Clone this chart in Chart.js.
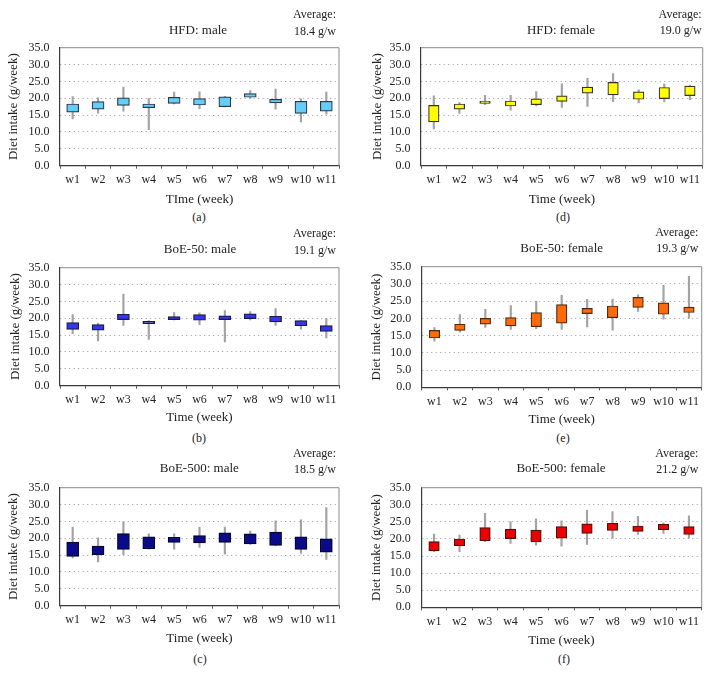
<!DOCTYPE html>
<html>
<head>
<meta charset="utf-8">
<script src="https://cdn.jsdelivr.net/npm/chart.js@4.4.1/dist/chart.umd.min.js"></script>
<style>
  body { margin: 0; background: #fff; }
  #fig { position: relative; width: 713px; height: 674px; background: #fff; overflow: hidden; }
  #fig canvas { position: absolute; }
  .lbl { position: absolute; white-space: nowrap; line-height: 1.2; font-family: "Liberation Serif", serif; color: #222; }
</style>
</head>
<body>
<div id="fig"></div>
<script>
// weeks on the x axis
const weeks = ["w1", "w2", "w3", "w4", "w5", "w6", "w7", "w8", "w9", "w10", "w11"];
const yTicks = [0, 5, 10, 15, 20, 25, 30, 35];

// [min, max] whiskers and [low, high] boxes, g/week
const hfdMaleRange = [[13.9, 20.5], [15.6, 20.1], [16.2, 23.3], [10.7, 20.0], [18.3, 21.8], [16.9, 21.9], [17.4, 20.6], [20.0, 22.3], [16.8, 22.7], [13.0, 19.8], [15.3, 21.8]];
const hfdMaleBox = [[15.9, 18.3], [16.8, 19.0], [17.9, 20.1], [17.2, 18.3], [18.5, 20.3], [18.0, 19.9], [17.5, 20.4], [20.3, 21.4], [18.6, 19.7], [15.5, 19.1], [16.2, 19.1]];

const hfdFemaleRange = [[10.9, 20.7], [15.5, 18.7], [18.1, 20.9], [16.5, 20.9], [17.7, 22.0], [17.3, 24.3], [17.6, 25.9], [19.0, 27.3], [18.6, 22.5], [19.0, 24.3], [19.6, 23.9]];
const hfdFemaleBox = [[13.0, 17.9], [16.8, 18.3], [18.5, 19.2], [17.7, 19.2], [18.1, 19.8], [19.1, 20.7], [21.5, 23.3], [21.0, 24.7], [19.7, 21.9], [19.9, 23.2], [20.8, 23.6]];

const boe50MaleRange = [[15.4, 21.1], [13.3, 18.5], [17.9, 27.2], [13.7, 19.3], [19.5, 21.7], [18.1, 21.6], [13.0, 22.3], [19.5, 22.0], [17.9, 22.9], [16.8, 19.4], [14.2, 20.0]];
const boe50MaleBox = [[16.7, 18.7], [16.5, 18.1], [19.6, 21.2], [18.4, 19.1], [19.6, 20.5], [19.4, 21.1], [19.6, 20.7], [19.9, 21.3], [18.9, 20.6], [17.8, 19.3], [16.1, 17.8]];

const boe50FemaleRange = [[13.4, 17.3], [16.0, 21.1], [17.4, 22.6], [16.8, 23.7], [17.0, 25.0], [16.8, 26.7], [17.5, 25.5], [16.6, 25.6], [22.0, 26.8], [19.8, 29.6], [20.0, 32.2]];
const boe50FemaleBox = [[14.3, 16.5], [16.5, 18.3], [18.3, 20.0], [17.8, 20.2], [17.6, 21.7], [18.6, 24.0], [21.4, 22.9], [20.2, 23.6], [23.2, 26.1], [21.2, 24.5], [21.7, 23.3]];

const boe500MaleRange = [[14.2, 23.3], [13.0, 20.1], [15.1, 24.9], [16.8, 21.3], [16.8, 21.3], [17.3, 23.3], [15.3, 23.3], [18.2, 22.1], [17.7, 25.2], [15.5, 25.5], [13.7, 29.1]];
const boe500MaleBox = [[14.6, 18.9], [15.1, 17.7], [16.7, 21.4], [16.9, 20.4], [18.8, 20.3], [18.6, 20.8], [18.8, 21.6], [18.3, 21.3], [17.9, 21.8], [16.7, 20.4], [15.9, 19.8]];

const boe500FemaleRange = [[16.3, 21.4], [16.3, 21.1], [19.2, 27.5], [18.7, 25.1], [18.2, 25.9], [17.9, 25.3], [18.4, 28.4], [20.2, 28.0], [21.3, 26.6], [21.6, 24.7], [20.2, 26.8]];
const boe500FemaleBox = [[16.5, 19.2], [18.0, 20.0], [19.5, 23.3], [20.1, 22.9], [19.1, 22.6], [20.2, 23.6], [21.6, 24.4], [22.5, 24.6], [22.2, 23.8], [22.7, 24.3], [21.3, 23.6]];

const panelTitles = ["HFD: male", "HFD: female", "BoE-50: male", "BoE-50: female", "BoE-500: male", "BoE-500: female"];
const averages = ["18.4 g/w", "19.0 g/w", "19.1 g/w", "19.3 g/w", "18.5 g/w", "21.2 g/w"];
const letters = ["(a)", "(d)", "(b)", "(e)", "(c)", "(f)"];
const xTitles = ["TIme (week)", "Time (week)", "Time (week)", "Time (week)", "Time (week)", "Time (week)"];

// layout and style of each panel
const panels = [
  { box: hfdMaleBox, range: hfdMaleRange, fill: "#66CCF8", edge: "#2a3a48", bw: 12,
    col: 0, plot: { l: 60, r: 339, t: 40.7, b: 165.7 }, yTitleX: 13.8, xTitleY: 199.3,
    titleXY: [198, 30], avgX: 336, avgY: [14, 30.5], letterXY: [199, 217] },
  { box: hfdFemaleBox, range: hfdFemaleRange, fill: "#FFFF00", edge: "#333", bw: 10.5,
    col: 1, plot: { l: 421, r: 702.7, t: 40.3, b: 165.7 }, yTitleX: 377.5, xTitleY: 199.3,
    titleXY: [561, 29.5], avgX: 701.7, avgY: [13.5, 30], letterXY: [563, 217] },
  { box: boe50MaleBox, range: boe50MaleRange, fill: "#3636EA", edge: "#1a1a40", bw: 12,
    col: 0, plot: { l: 60, r: 339, t: 260.3, b: 385.7 }, yTitleX: 15.3, xTitleY: 417.7,
    titleXY: [200, 249.3], avgX: 336, avgY: [233.3, 249.8], letterXY: [199, 438] },
  { box: boe50FemaleBox, range: boe50FemaleRange, fill: "#FF6A0A", edge: "#4a2a10", bw: 10.5,
    col: 1, plot: { l: 421.7, r: 701.7, t: 259.7, b: 387.3 }, yTitleX: 376.3, xTitleY: 420,
    titleXY: [561.7, 248.3], avgX: 698.3, avgY: [231.7, 248.3], letterXY: [563, 438] },
  { box: boe500MaleBox, range: boe500MaleRange, fill: "#0A0A8A", edge: "#05052a", bw: 12,
    col: 0, plot: { l: 60, r: 339, t: 480, b: 605.7 }, yTitleX: 14, xTitleY: 639,
    titleXY: [199.3, 468.3], avgX: 336, avgY: [452.7, 469], letterXY: [200, 659] },
  { box: boe500FemaleBox, range: boe500FemaleRange, fill: "#EE0000", edge: "#4a1010", bw: 10.5,
    col: 1, plot: { l: 421.3, r: 701.7, t: 480, b: 607.3 }, yTitleX: 376.3, xTitleY: 641,
    titleXY: [561, 468.3], avgX: 698.3, avgY: [453.3, 469.3], letterXY: [564, 659] },
];

const fig = document.getElementById("fig");
Chart.defaults.font.family = '"Liberation Serif", serif';
Chart.defaults.color = "#222";

function addText(txt, x, y, size, align) {
  const d = document.createElement("div");
  d.className = "lbl";
  d.textContent = txt;
  d.style.fontSize = size + "px";
  d.style.top = y + "px";
  if (align === "right") {
    d.style.right = (713 - x) + "px";
    d.style.transform = "translateY(-50%)";
  } else {
    d.style.left = x + "px";
    d.style.transform = "translate(-50%, -50%)";
  }
  fig.appendChild(d);
}

// light top and right edges of the plot frame
const framePlugin = {
  id: "frame",
  afterDatasetsDraw(chart) {
    const { ctx, chartArea: a } = chart;
    ctx.save();
    ctx.strokeStyle = "#8c8c8c";
    ctx.lineWidth = 1;
    ctx.beginPath();
    ctx.moveTo(a.left, a.top);
    ctx.lineTo(a.right, a.top);
    ctx.lineTo(a.right, a.bottom);
    ctx.stroke();
    ctx.restore();
  },
};

panels.forEach((p, i) => {
  const cl = p.col === 0 ? 0 : 356;
  const cw = p.col === 0 ? 345 : 357;
  const ct = Math.floor(p.plot.t - 10);
  const cb = Math.ceil(p.xTitleY + 7.8);
  const ch = cb - ct;

  const canvas = document.createElement("canvas");
  canvas.width = cw;
  canvas.height = ch;
  canvas.style.left = cl + "px";
  canvas.style.top = ct + "px";
  fig.appendChild(canvas);

  new Chart(canvas, {
    type: "bar",
    data: {
      labels: weeks,
      datasets: [
        {
          label: "box",
          data: p.box,
          backgroundColor: p.fill,
          borderColor: p.edge,
          borderWidth: 1.2,
          borderSkipped: false,
          barThickness: p.bw,
          grouped: false,
          order: 0,
        },
        {
          label: "range",
          data: p.range,
          backgroundColor: "#a3a3a3",
          borderWidth: 0,
          barThickness: 1.5,
          grouped: false,
          order: 1,
        },
      ],
    },
    options: {
      responsive: false,
      animation: false,
      layout: {
        padding: { top: p.plot.t - ct, right: cl + cw - p.plot.r, left: 0, bottom: 0 },
      },
      plugins: { legend: { display: false }, tooltip: { enabled: false } },
      scales: {
        x: {
          offset: true,
          grid: { offset: true, drawOnChartArea: false, tickLength: 3, color: "#555", tickWidth: 1 },
          border: { color: "#3a3a3a", width: 1.2 },
          ticks: { font: { size: 12 }, padding: 4, maxRotation: 0, autoSkip: false },
          title: {
            display: true,
            text: xTitles[i],
            font: { size: 13 },
            padding: { top: 0, bottom: cb - 7.8 - p.xTitleY },
          },
          afterFit: (s) => { s.height = cb - p.plot.b; },
        },
        y: {
          min: yTicks[0],
          max: yTicks[yTicks.length - 1],
          ticks: {
            font: { size: 12 },
            padding: 10.5,
            stepSize: yTicks[1] - yTicks[0],
            autoSkip: false,
            callback: (v) => Number(v).toFixed(1),
          },
          grid: {
            drawTicks: false,
            lineWidth: 1,
            color: (c) => (c.tick && (c.tick.value === 0 || c.tick.value === 35) ? "rgba(0,0,0,0)" : "#9a9a9a"),
          },
          border: { color: "#3a3a3a", width: 1.2, dash: [1, 3.5] },
          title: {
            display: true,
            text: "Diet intake (g/week)",
            font: { size: 13 },
            padding: { top: p.yTitleX - cl - 7.8, bottom: 0 },
          },
          afterFit: (s) => { s.width = p.plot.l - cl; },
        },
      },
    },
    plugins: [framePlugin],
  });

  addText(panelTitles[i], p.titleXY[0], p.titleXY[1], 13, "center");
  addText("Average:", p.avgX, p.avgY[0], 12, "right");
  addText(averages[i], p.avgX, p.avgY[1], 12, "right");
  addText(letters[i], p.letterXY[0], p.letterXY[1], 12, "center");
});
</script>
</body>
</html>
